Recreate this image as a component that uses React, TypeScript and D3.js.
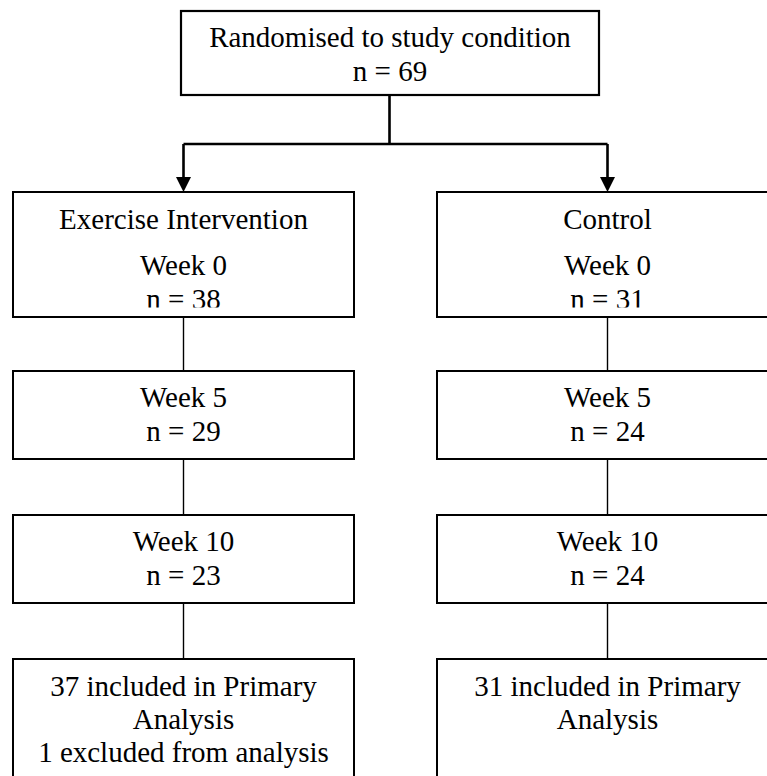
import React from "react";
import * as d3 from "d3";

const topLines = ["Randomised to study condition", "n = 69"];
const groups = ["Exercise Intervention", "Control"];
const weeks = ["Week 0", "Week 5", "Week 10"];
const exerciseN = [38, 29, 23];
const controlN = [31, 24, 24];
const finalLines = [
  ["37 included in Primary", "Analysis", "1 excluded from analysis"],
  ["31 included in Primary", "Analysis"],
];

const W = 767;
const H = 776;

export default function App() {
  const x = d3.scaleLinear().domain([0, 1]).range([183.5, 607.5]);
  const boxW = 341;
  const rows = [
    { top: 192, bottom: 317 },
    { top: 371, bottom: 459 },
    { top: 515, bottom: 603 },
    { top: 659, bottom: 800 },
  ];
  const counts = [exerciseN, controlN];
  const topBox = { x0: 181, x1: 599, y0: 11, y1: 95 };
  const stemX = 389.5;
  const hY = 144;

  const arrowHead = d3.line()([
    [-7.5, -15],
    [7.5, -15],
    [0, 0],
  ]) + "Z";

  const texts: { x: number; y: number; t: string; clip?: boolean }[] = [];
  topLines.forEach((t, i) => texts.push({ x: (topBox.x0 + topBox.x1) / 2, y: 47 + i * 33.5, t }));
  [0, 1].forEach((c) => {
    const cx = x(c);
    texts.push({ x: cx, y: 229, t: groups[c] });
    texts.push({ x: cx, y: 275, t: weeks[0], clip: true });
    texts.push({ x: cx, y: 308.5, t: `n = ${counts[c][0]}`, clip: true });
    [1, 2].forEach((i) => {
      texts.push({ x: cx, y: rows[i].top + 36, t: weeks[i] });
      texts.push({ x: cx, y: rows[i].top + 69.5, t: `n = ${counts[c][i]}` });
    });
    finalLines[c].forEach((t, i) => texts.push({ x: cx, y: 696 + i * 33, t }));
  });

  return (
    <svg width={W} height={H} style={{ position: "absolute", left: 0, top: 0 }}>
      <defs>
        <clipPath id="clipW0">
          <rect x={0} y={0} width={W} height={307.5} />
        </clipPath>
      </defs>
      <rect width={W} height={H} fill="#fff" />
      <rect
        x={topBox.x0}
        y={topBox.y0}
        width={topBox.x1 - topBox.x0}
        height={topBox.y1 - topBox.y0}
        fill="none"
        stroke="#000"
        strokeWidth={2.2}
      />
      <path
        d={`M${stemX},${topBox.y1} V${hY} M${x(0)},${hY} H${x(1)} M${x(0)},${hY} V${rows[0].top - 14} M${x(1)},${hY} V${rows[0].top - 14}`}
        stroke="#000"
        strokeWidth={2.6}
        fill="none"
      />
      {[0, 1].map((c) => (
        <path key={"a" + c} d={arrowHead} transform={`translate(${x(c)},${rows[0].top})`} fill="#000" />
      ))}
      {[0, 1].map((c) =>
        rows.slice(0, 3).map((r, i) => (
          <line
            key={"l" + c + i}
            x1={x(c)}
            x2={x(c)}
            y1={r.bottom}
            y2={rows[i + 1].top}
            stroke="#000"
            strokeWidth={1.4}
          />
        ))
      )}
      {[0, 1].map((c) =>
        rows.map((r, i) => (
          <rect
            key={"r" + c + i}
            x={x(c) - boxW / 2}
            y={r.top}
            width={boxW}
            height={r.bottom - r.top}
            fill="none"
            stroke="#000"
            strokeWidth={2}
          />
        ))
      )}
      {texts.map((d, i) => (
        <text
          key={"t" + i}
          x={d.x}
          y={d.y}
          textAnchor="middle"
          fontSize={29}
          fontFamily="Liberation Serif"
          clipPath={d.clip ? "url(#clipW0)" : undefined}
        >
          {d.t}
        </text>
      ))}
    </svg>
  );
}
